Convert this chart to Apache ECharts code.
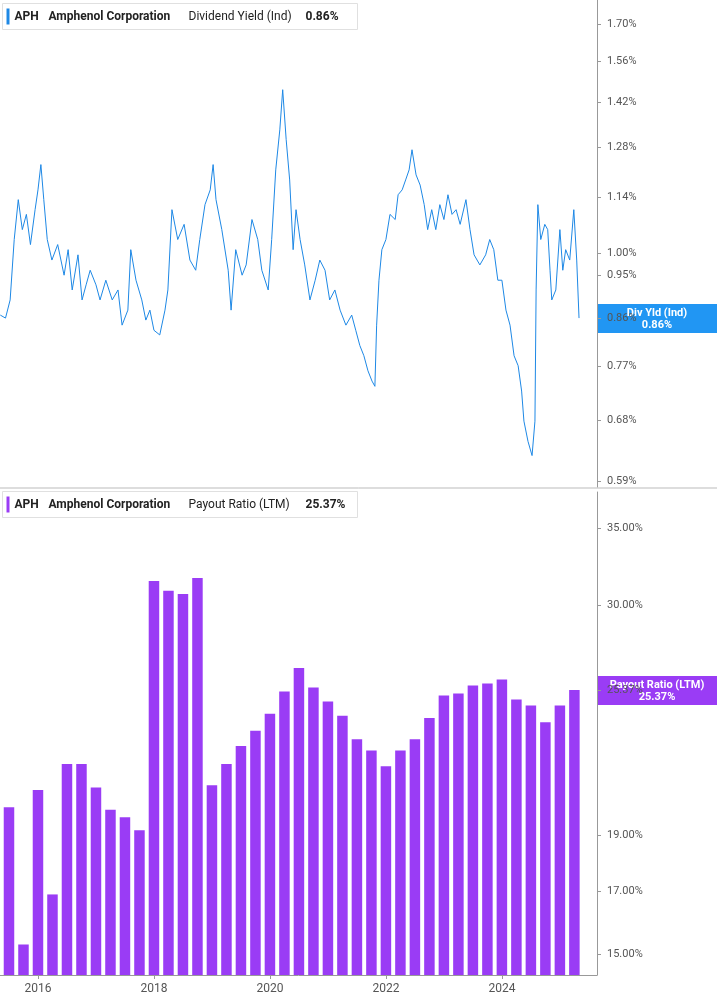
<!DOCTYPE html>
<html><head><meta charset="utf-8">
<script src="https://cdn.jsdelivr.net/npm/echarts@6/dist/echarts.min.js"></script>
<style>html,body{margin:0;padding:0;background:#fff}#c{width:717px;height:1005px}</style>
</head><body><div id="c"></div>
<script>
// Dividend yield (ind), [year, %]
const yieldData = [
  [2015.35,0.867],[2015.44,0.861],[2015.52,0.898],[2015.59,1.033],[2015.66,1.133],[2015.73,1.057],[2015.80,1.095],
  [2015.87,1.021],[2015.95,1.107],[2016.00,1.159],[2016.05,1.229],[2016.10,1.133],[2016.16,1.033],[2016.24,0.985],
  [2016.34,1.021],[2016.45,0.951],[2016.52,1.009],[2016.59,0.919],[2016.69,0.997],[2016.76,0.898],[2016.83,0.930],
  [2016.90,0.962],[2017.00,0.930],[2017.07,0.898],[2017.17,0.940],[2017.28,0.898],[2017.38,0.919],[2017.45,0.847],
  [2017.55,0.877],[2017.60,1.009],[2017.69,0.940],[2017.79,0.898],[2017.86,0.857],[2017.93,0.877],[2018.00,0.837],
  [2018.10,0.828],[2018.19,0.877],[2018.24,0.919],[2018.31,1.107],[2018.41,1.033],[2018.52,1.070],[2018.62,0.985],
  [2018.72,0.962],[2018.79,1.033],[2018.88,1.120],[2018.97,1.159],[2019.02,1.229],[2019.07,1.133],[2019.17,1.057],
  [2019.28,0.962],[2019.33,0.877],[2019.41,1.009],[2019.52,0.951],[2019.59,0.974],[2019.69,1.082],[2019.79,1.033],
  [2019.86,0.962],[2019.97,0.919],[2020.03,1.033],[2020.10,1.214],[2020.17,1.332],[2020.22,1.462],[2020.28,1.302],
  [2020.34,1.186],[2020.40,1.009],[2020.45,1.107],[2020.52,1.033],[2020.60,0.974],[2020.69,0.898],[2020.78,0.940],
  [2020.86,0.985],[2020.95,0.962],[2021.03,0.898],[2021.12,0.919],[2021.21,0.877],[2021.31,0.847],[2021.41,0.867],
  [2021.48,0.837],[2021.55,0.808],[2021.62,0.789],[2021.69,0.762],[2021.76,0.744],[2021.81,0.735],[2021.84,0.847],
  [2021.88,0.940],[2021.93,1.009],[2022.00,1.033],[2022.07,1.095],[2022.16,1.082],[2022.21,1.146],[2022.28,1.159],
  [2022.34,1.186],[2022.40,1.214],[2022.45,1.272],[2022.52,1.200],[2022.59,1.172],[2022.66,1.120],[2022.72,1.057],
  [2022.79,1.107],[2022.86,1.057],[2022.93,1.120],[2023.00,1.082],[2023.07,1.146],[2023.14,1.095],[2023.21,1.107],
  [2023.28,1.070],[2023.38,1.133],[2023.45,1.057],[2023.52,0.997],[2023.62,0.974],[2023.72,0.997],[2023.79,1.033],
  [2023.86,1.009],[2023.93,0.940],[2024.00,0.940],[2024.07,0.877],[2024.14,0.847],[2024.21,0.789],[2024.28,0.771],
  [2024.34,0.727],[2024.38,0.678],[2024.45,0.647],[2024.52,0.626],[2024.57,0.678],[2024.59,0.919],[2024.62,1.120],
  [2024.67,1.033],[2024.74,1.070],[2024.79,1.057],[2024.83,0.962],[2024.86,0.898],[2024.93,0.919],[2025.00,1.057],
  [2025.05,0.962],[2025.10,1.009],[2025.17,0.985],[2025.24,1.107],[2025.29,0.985],[2025.33,0.861]
];
const yieldTicks = [0.59, 0.68, 0.77, 0.86, 0.95, 1.00, 1.14, 1.28, 1.42, 1.56, 1.70];

// Payout ratio (LTM), quarterly
const payoutQuarters = [];
for (let i = 0; i < 40; i++) payoutQuarters.push(2015.5 + i * 0.25);
const payoutValues = [
  20.1,15.3,20.8,16.9,21.9,21.9,20.9,20.0,19.7,19.2,
  31.5,30.9,30.7,31.7,21.0,21.9,22.7,23.4,24.2,25.3,
  26.5,25.5,24.8,24.1,23.0,22.5,21.8,22.5,23.0,24.0,
  25.1,25.2,25.6,25.7,25.9,24.9,24.6,23.8,24.6,25.37
];
const payoutTicks = [15, 17, 19, 25.37, 30, 35];
const yearTicks = [2016, 2018, 2020, 2022, 2024];

const X_MIN = 2015.345, X_MAX = 2025.64;
const lnv = v => Math.log(v);
const font = 'Roboto, "Noto Sans", sans-serif';

const chart = echarts.init(document.getElementById('c'), null, { renderer: 'canvas' });

const yAxisCommon = (ticks, min, max) => ({
  type: 'value', position: 'right', min: lnv(min), max: lnv(max),
  axisLine: { show: true, lineStyle: { color: '#999' } },
  axisTick: { show: true, customValues: ticks.map(lnv), length: 4, lineStyle: { color: '#999' } },
  axisLabel: {
    customValues: ticks.map(lnv), color: '#555', fontSize: 11, fontFamily: font, margin: 10,
    formatter: v => Math.exp(v).toFixed(2) + '%'
  },
  splitLine: { show: false }
});

chart.setOption({
  animation: false,
  grid: [
    { left: 0, right: 120, top: 0, height: 487 },
    { left: 0, right: 120, top: 492, bottom: 30 }
  ],
  xAxis: [
    { gridIndex: 0, type: 'value', min: X_MIN, max: X_MAX, axisLine: { show: false }, axisTick: { show: false }, axisLabel: { show: false }, splitLine: { show: false } },
    { gridIndex: 1, type: 'value', min: X_MIN, max: X_MAX,
      axisLine: { show: true, lineStyle: { color: '#999' } },
      axisTick: { show: true, customValues: yearTicks, length: 4, lineStyle: { color: '#999' } },
      axisLabel: { customValues: yearTicks, color: '#555', fontSize: 12, fontFamily: font, formatter: v => String(Math.round(v)) },
      splitLine: { show: false } }
  ],
  yAxis: [
    Object.assign({ gridIndex: 0 }, yAxisCommon(yieldTicks, 0.582, 1.80)),
    Object.assign({ gridIndex: 1 }, yAxisCommon(payoutTicks, 14.4, 37.6))
  ],
  series: [
    { type: 'line', xAxisIndex: 0, yAxisIndex: 0, symbol: 'none',
      lineStyle: { color: '#1e88e5', width: 1 },
      data: yieldData.map(d => [d[0], lnv(d[1])]) },
    { type: 'custom', xAxisIndex: 1, yAxisIndex: 1,
      data: payoutQuarters.map((q, i) => [q, lnv(payoutValues[i])]),
      renderItem: (params, api) => {
        const top = api.coord([api.value(0), api.value(1)]);
        const base = api.coord([api.value(0), lnv(14.4)]);
        const w = 10.5;
        return { type: 'rect', shape: { x: top[0] - w / 2, y: top[1], width: w, height: base[1] - top[1] },
          style: { fill: '#9a3cf5' } };
      } }
  ]
});

// header tags and last-value labels
const yPx0 = chart.convertToPixel({ yAxisIndex: 0 }, lnv(yieldData[yieldData.length - 1][1]));
const yPx1 = chart.convertToPixel({ yAxisIndex: 1 }, lnv(payoutValues[payoutValues.length - 1]));
const header = (y, color, label, value) => ({
  type: 'group', left: 2, top: y, children: [
    { type: 'rect', shape: { x: 0, y: 0, width: 355, height: 26 }, style: { fill: '#fff', stroke: '#e0e0e0' } },
    { type: 'rect', shape: { x: 4, y: 5, width: 3, height: 16 }, style: { fill: color } },
    { type: 'text', x: 12, y: 7, style: { text: 'APH', font: 'bold 12px ' + font, fill: '#222' } },
    { type: 'text', x: 46, y: 7, style: { text: 'Amphenol Corporation', font: 'bold 12px ' + font, fill: '#222' } },
    { type: 'text', x: 186, y: 7, style: { text: label, font: '12px ' + font, fill: '#222' } },
    { type: 'text', x: label.length > 20 ? 300 : 303, y: 7, style: { text: value, font: 'bold 12px ' + font, fill: '#222' } }
  ]
});
const tag = (y, color, l1, l2) => ({
  type: 'group', left: 597, top: y - 14, children: [
    { type: 'rect', shape: { x: 0, y: 0, width: 120, height: 29 }, style: { fill: color } },
    { type: 'text', x: 60, y: 3, style: { text: l1 + '\n' + l2, font: 'bold 11px ' + font, fill: '#fff', align: 'center', lineHeight: 12 } }
  ]
});
chart.setOption({
  graphic: [
    { type: 'line', shape: { x1: 0, y1: 488, x2: 717, y2: 488 }, style: { stroke: '#bbb', lineWidth: 1 } },
    header(3, '#1e88e5', 'Dividend Yield (Ind)', '0.86%'),
    header(491, '#9a3cf5', 'Payout Ratio (LTM)', '25.37%'),
    tag(yPx0, '#2196f3', 'Div Yld (Ind)', '0.86%'),
    tag(yPx1, '#9a3cf5', 'Payout Ratio (LTM)', '25.37%')
  ]
});
</script></body></html>
